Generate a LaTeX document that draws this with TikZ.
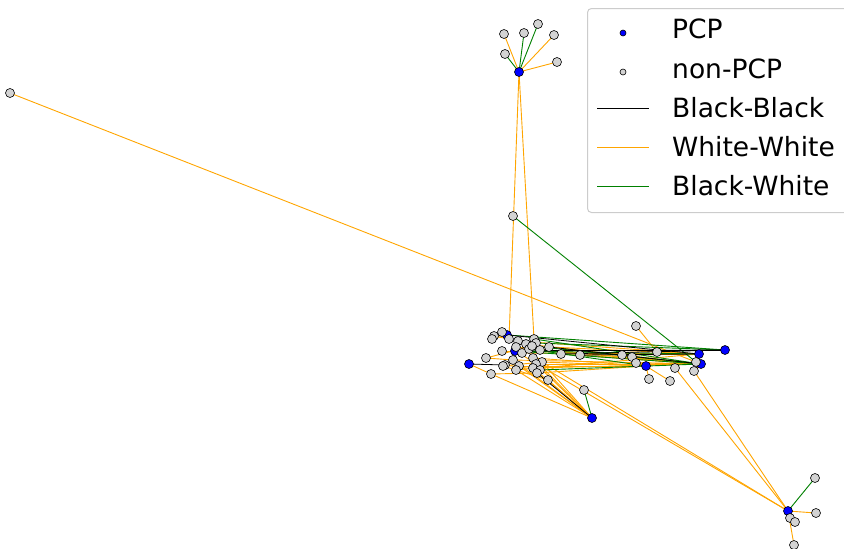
\documentclass[tikz,border=0pt]{standalone}
\usepackage{fontspec}
\setmainfont{DejaVu Sans}
\usetikzlibrary{backgrounds}
\definecolor{mporange}{HTML}{FFA500}
\definecolor{mpgreen}{HTML}{008000}
\definecolor{mpblue}{HTML}{0000FF}
\definecolor{mpgray}{HTML}{D3D3D3}
\definecolor{legframe}{HTML}{CCCCCC}
\tikzset{
  pcp/.style={circle, fill=mpblue, draw=black, line width=0.6pt, inner sep=0pt, minimum size=9pt},
  npcp/.style={circle, fill=mpgray, draw=black, line width=0.6pt, inner sep=0pt, minimum size=9pt},
  oe/.style={draw=mporange, line width=0.9pt},
  ge/.style={draw=mpgreen, line width=0.9pt},
  ke/.style={draw=black, line width=0.8pt},
  legtext/.style={anchor=base west, inner sep=0pt, font=\fontsize{26.5}{30}\selectfont},
}
\begin{document}
\begin{tikzpicture}[x=1pt,y=-1pt]
\useasboundingbox (0,0) rectangle (844,549);
% PCP nodes
\foreach \n/\x/\y in {pa/519/72, pb/507/335, pc/515/351, pd/469/364, pe/592/418, pf/646/366, pg/699/354, ph/725/350, pi/701/364, pj/788/511}
  \node[pcp] (\n) at (\x,\y) {};
% non-PCP nodes
\foreach \n/\x/\y in {t1/504/34, t2/524/33, t3/538/24, t4/554/35, t5/505/54, t6/557/62,
  fl/10/93, m1/513/216, m2/636/326,
  c1/502/332, c2/494/336, c3/492/339, c4/509/339, c5/518/341, c6/526/344, c7/534/339, c8/536/343,
  c9/516/347, c10/522/353, c11/529/349, c12/532/346, c13/540/350, c14/549/347, c15/502/351,
  c16/561/354, c17/580/355, c18/622/355, c19/632/357, c20/636/363, c21/657/352, c22/696/362,
  c23/694/371, c24/675/368, c25/649/379, c26/670/381, c27/486/358, c28/513/360, c29/505/365,
  c30/503/366, c31/519/366, c32/516/370, c33/491/374, c34/533/358, c35/542/362, c36/536/364,
  c37/533/368, c38/540/370, c39/537/373, c40/548/380, c41/584/390,
  b1/815/478, b2/816/513, b3/790/518, b4/795/522, b5/794/545}
  \node[npcp] (\n) at (\x,\y) {};
\begin{scope}[on background layer]
  % white-white
  \foreach \a/\b in {pa/t1, pa/t4, pa/t6, pa/c4, pa/c7, fl/pi, m2/c21, pj/b2, pj/b5, pj/pc, pj/c35,
    pj/c24, pj/c23, pf/c25, pf/c26, pe/c28, pe/c31, pe/c34, pe/c35, pe/c36, pe/c37, pe/c40, pe/c33,
    pe/c32, pd/c33, c5/pg, c6/pi, c13/pi, c14/pg, c16/pi, c17/pi, c34/pf, c35/pf, c36/pi, c10/pg,
    c28/pi, c31/pf, c18/pg, c19/pi, c20/pi, c21/pg, c18/pf, c9/pi, c37/pi, c32/pg, c39/pf, c30/c35,
    c29/c38, c1/pb, c3/pb, c2/c4, c27/c28, c15/pc, c30/c40, c22/pg, c23/pi, c33/c39, c27/c12}
    \draw[oe] (\a.center) -- (\b.center);
  % black-white
  \foreach \a/\b in {pa/t2, pa/t3, pa/t5, m1/c22, pj/b1, pe/c41, pb/ph, pc/pg, pc/pi, c7/pi, c8/ph,
    c12/pi, c38/pi, c11/pf}
    \draw[ge] (\a.center) -- (\b.center);
  % black-black
  \foreach \a/\b in {pe/c39, pd/c29, pb/pg, pc/ph, c14/pi, c13/ph, c17/pg, c16/ph}
    \draw[ke] (\a.center) -- (\b.center);
\end{scope}
% legend
\node[draw=legframe, fill=white, fill opacity=0.8, draw opacity=1, line width=1pt, rounded corners=4pt,
  minimum width=262pt, minimum height=204pt, anchor=north west, inner sep=0pt] (legbox) at (587,8) {};
\node[pcp, minimum size=6pt] (lg1) at (623,33) {};
\node[npcp, minimum size=6pt] (lg2) at (623,72) {};
\coordinate (lk1) at (597,108); \coordinate (lk2) at (649,108);
\coordinate (lo1) at (597,147); \coordinate (lo2) at (649,147);
\coordinate (lgr1) at (597,186); \coordinate (lgr2) at (649,186);
\draw[ke] (lk1) -- (lk2);
\draw[oe] (lo1) -- (lo2);
\draw[ge] (lgr1) -- (lgr2);
\node[legtext] (tx1) at (672,38) {PCP};
\node[legtext] (tx2) at (672,78) {non-PCP};
\node[legtext] (tx3) at (672,117) {Black-Black};
\node[legtext] (tx4) at (672,156) {White-White};
\node[legtext] (tx5) at (672,195) {Black-White};
\end{tikzpicture}
\end{document}
